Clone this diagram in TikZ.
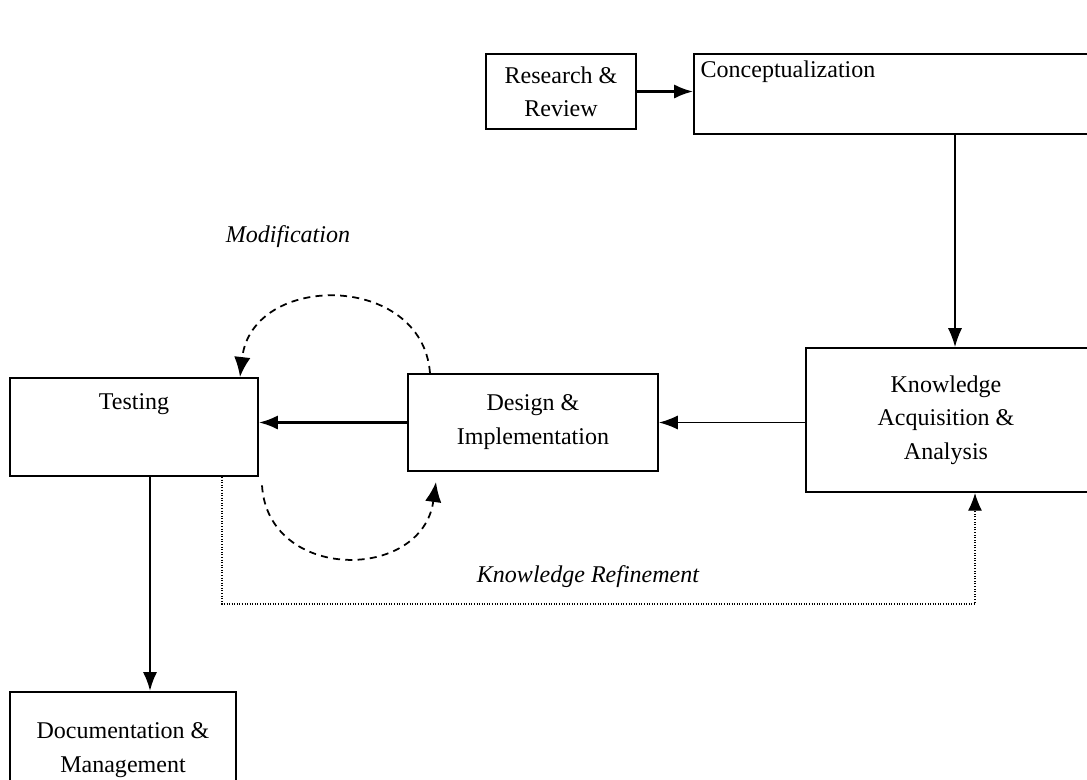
\documentclass[tikz,border=0pt]{standalone}
\usepackage{fontspec}
\setmainfont{Liberation Serif}
\usetikzlibrary{arrows.meta,fit}
\begin{document}
\begin{tikzpicture}[x=0.03cm,y=-0.03cm,
  box/.style={draw, line width=1.8pt, inner sep=0pt},
  lbl/.style={font=\fontsize{20.5}{28.5}\selectfont, align=center, inner sep=0pt},
  ilbl/.style={font=\fontsize{20.5}{28}\selectfont\itshape, inner sep=0pt},
  arr/.style={line width=1.8pt, -{Latex[length=16pt,width=12pt]}},
  arrthin/.style={line width=1.1pt, -{Latex[length=16pt,width=12pt]}},
  dsh/.style={line width=1.5pt, dash pattern=on 6pt off 4.5pt, -{Latex[length=17pt,width=14pt]}},
  dotl/.style={line width=1pt, dash pattern=on 0.8pt off 1.4pt, -{Latex[length=15pt,width=12pt]}}]
\useasboundingbox (0,0) rectangle (1087,779);
\clip (0,0) rectangle (1087,779);
\fill[white] (0,0) rectangle (1087,779);

% boxes
\node[box, fit={(486,54)(636,129)}] (rr) {};
\node[lbl] (rrt) at (561,92) {Research \&\\Review};
\node[box, fit={(694,54)(1100,134)}] (cc) {};
\node[lbl] (cct) at (788,72) {Conceptualization};
\node[box, fit={(806,348)(1100,492)}] (ka) {};
\node[lbl] (kat) at (946,420) {Knowledge\\Acquisition \&\\Analysis};
\node[box, fit={(408,374)(658,471)}] (di) {};
\node[lbl] (dit) at (533,422) {Design \&\\Implementation};
\node[box, fit={(10,378)(258,476)}] (te) {};
\node[lbl] (tet) at (134,404) {Testing};
\node[box, fit={(10,692)(236,800)}] (dm) {};
\node[lbl] (dmt) at (123,750) {Documentation \&\\Management};

% labels
\node[ilbl] (mod) at (288,237) {Modification};
\node[ilbl] (ref) at (588,577) {Knowledge Refinement};

% helper coordinates
\coordinate (kx) at (955,0);
\coordinate (tx) at (150,0);
\coordinate (d1) at (222,0);
\coordinate (d2) at (975,604);
\coordinate (ms) at (430,0);
\coordinate (me) at (240,0);
\coordinate (rs) at (262,0);
\coordinate (re) at (436,0);

% connectors
\draw[arr] (rr.east) -- (rr.east -| cc.west);
\draw[arrthin] (cc.south -| kx) -- (ka.north -| kx);
\draw[arrthin] (ka.west |- di.east) -- (di.east);
\draw[arr] (di.west) -- (te.east |- di.west);
\draw[arr] (te.south -| tx) -- (dm.north -| tx);
\draw[dotl] (te.south -| d1) |- (d2) -- (ka.south -| d2);
\draw[dsh] (di.north -| ms) .. controls (422,272) and (252,272) .. (te.north -| me);
\draw[dsh] ([yshift=-0.25cm]te.south -| rs) .. controls (268,582) and (422,582) .. ([yshift=-0.3cm]di.south -| re);
\end{tikzpicture}
\end{document}
